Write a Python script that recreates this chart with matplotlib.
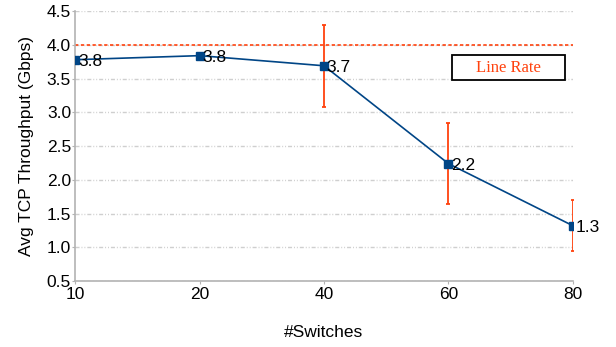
import numpy as np
import matplotlib.pyplot as plt
from matplotlib.patches import Rectangle

plt.rcParams['font.family'] = ['Liberation Sans', 'DejaVu Sans']

switches = ["10", "20", "40", "60", "80"]
throughput = [3.78, 3.84, 3.69, 2.24, 1.32]
err = [0.0, 0.0, 0.61, 0.60, 0.38]
line_rate = 4.0

blue = "#004586"
red = "#ff420e"

fig = plt.figure(figsize=(6.16, 3.47), dpi=100)
ax = fig.add_axes([0.122, 0.19, 0.808, 0.778])

x = np.arange(len(switches))

ax.axhline(line_rate, color=red, linestyle=(0, (2, 1.5)), linewidth=1.2, zorder=2)

ax.errorbar(x, throughput, yerr=[e if e > 0 else np.nan for e in err],
            fmt="none", ecolor=red, elinewidth=1.3, capsize=1.5, capthick=1.3, zorder=3)
ax.plot(x, throughput, color=blue, linewidth=1.2, marker="s", markersize=5.5,
        markerfacecolor=blue, markeredgecolor=blue, zorder=4)

for xi, yi in zip(x, throughput):
    ax.annotate(f"{yi:.1f}", (xi, yi), xytext=(2, -1), textcoords="offset points",
                ha="left", va="center", fontsize=12.5, color="black", zorder=5)

# line rate legend box
ax.add_patch(Rectangle((0.757, 0.744), 0.227, 0.093, transform=ax.transAxes,
                       facecolor="white", edgecolor="black", linewidth=1.3, zorder=5))
ax.text(0.8705, 0.79, "Line Rate", transform=ax.transAxes, ha="center", va="center",
        color=red, fontsize=12, family="Liberation Serif", zorder=6)

ax.set_xlim(0, len(switches) - 1)
ax.set_ylim(0.5, 4.5)
ax.set_xticks(x)
ax.set_xticklabels(switches)
ax.set_yticks(np.arange(0.5, 4.51, 0.5))
ax.yaxis.set_major_formatter(plt.FormatStrFormatter("%.1f"))
ax.tick_params(labelsize=12.5, length=2, color="#b3b3b3", pad=1)
ax.tick_params(axis="x", pad=2)

ax.grid(axis="y", color="#cfcfcf", linestyle=(0, (2.9, 1.4, 0.7, 1.4, 0.7, 1.4)),
        linewidth=1.0)
for side in ["top", "right"]:
    ax.spines[side].set_visible(False)
for side in ["left", "bottom"]:
    ax.spines[side].set_color("#b3b3b3")
    ax.spines[side].set_linewidth(1.2)

ax.set_xlabel("#Switches", fontsize=12.5, labelpad=17)
ax.set_ylabel("Avg TCP Throughput (Gbps)", fontsize=12.5, labelpad=9)

fig.savefig("out.png", dpi=100)
